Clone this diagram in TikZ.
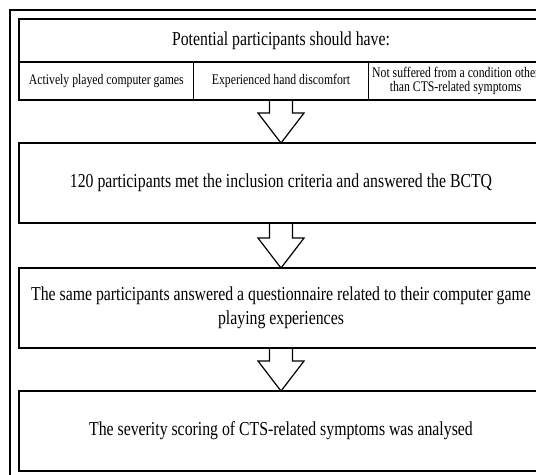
\documentclass[tikz,border=0pt]{standalone}
\usepackage{fontspec}
\setmainfont{Liberation Serif}[FakeStretch=0.8]
\usetikzlibrary{positioning, calc}

% hollow block arrow from the bottom of one box to the top of the next
\newcommand{\flowarrow}[2]{%
  \draw ($(#1.south)+(-8.6pt,0)$) |- ($(#2.north)+(-17.25pt,22.5pt)$)
    -- (#2.north) -- ($(#2.north)+(17.25pt,22.5pt)$) -| ($(#1.south)+(8.6pt,0)$);}

\begin{document}
\begin{tikzpicture}[
    x=1pt, y=1pt,
    line width=0.9pt,
    every node/.style={inner sep=2pt, outer sep=0pt},
    stepbox/.style={draw, rectangle, minimum width=393pt, minimum height=60pt, font=\fontsize{14.8}{18}\selectfont, align=center},
    cell/.style={draw, rectangle, minimum width=131pt, minimum height=28.5pt, font=\fontsize{11}{10}\selectfont, align=center}
]
    \useasboundingbox (0,0) rectangle (402,-356.25);
    \clip (0,0) rectangle (402,-356.25);

    \draw (7.5,-7.5) rectangle (414,-362);

    \node[stepbox, minimum height=32.25pt] (head) at (210.75,-30.4) {Potential participants should have:};
    \node[cell, anchor=north west] (crit1) at (head.south west) {Actively played computer games};
    \node[cell, right=0pt of crit1] (crit2) {Experienced hand discomfort};
    \node[cell, right=0pt of crit2] (crit3) {Not suffered from a condition other\\than CTS-related symptoms};

    \node[stepbox, below=32.25pt of crit2] (bctq) {120 participants met the inclusion criteria and answered the BCTQ};
    \node[stepbox, below=33.75pt of bctq] (quest) {The same participants answered a questionnaire related to their computer game\\playing experiences};
    \node[stepbox, below=32.25pt of quest] (score) {The severity scoring of CTS-related symptoms was analysed};

    \flowarrow{crit2}{bctq}
    \flowarrow{bctq}{quest}
    \flowarrow{quest}{score}
\end{tikzpicture}
\end{document}
